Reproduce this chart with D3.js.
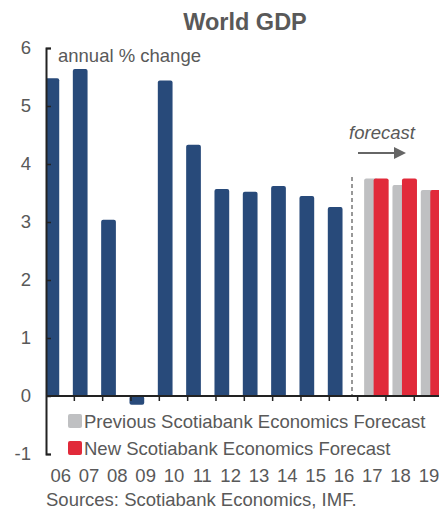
<!DOCTYPE html>
<html><head><meta charset="utf-8">
<script src="https://cdn.jsdelivr.net/npm/d3@7"></script>
<style>body{margin:0;background:#fff}svg{display:block;font-family:"Liberation Sans",Arial,sans-serif}</style>
</head><body><svg id="c" width="439" height="509"></svg>
<script>
const years = ["06","07","08","09","10","11","12","13","14","15","16","17","18","19"];
const histYears = ["06","07","08","09","10","11","12","13","14","15","16"];
const histValues = [5.48, 5.64, 3.04, -0.15, 5.44, 4.33, 3.57, 3.52, 3.62, 3.45, 3.26];
const fcYears = ["17","18","19"];
const prevForecast = [3.75, 3.64, 3.55];
const newForecast = [3.75, 3.75, 3.55];
const yTicks = [-1, 0, 1, 2, 3, 4, 5, 6];

const svg = d3.select("#c");
const txt = "#595959";
const x = d3.scaleBand().domain(years).range([46, 46 + 14 * 28.33]).padding(0);
const y = d3.scaleLinear().domain([-1, 6]).range([454, 48]);
const bw = x.bandwidth();

// title
svg.append("text").attr("x", 245).attr("y", 30).attr("text-anchor", "middle")
  .attr("font-size", "23.5px").attr("font-weight", "bold").attr("fill", txt).text("World GDP");

const plot = svg.append("g");
svg.append("defs").append("clipPath").attr("id", "clp").append("rect")
  .attr("x", 46).attr("y", 0).attr("width", 393).attr("height", 509);
const bars = plot.append("g").attr("clip-path", "url(#clp)");

function rbar(sel, xs, w, v, color) {
  sel.attr("x", xs).attr("width", w)
    .attr("y", v >= 0 ? y(v) : y(0))
    .attr("height", Math.abs(y(v) - y(0)) + (v >= 0 ? 1 : 0))
    .attr("rx", 2).attr("fill", color);
}
histYears.forEach((yr, i) => {
  rbar(bars.append("rect"), x(yr) - 1.5, bw * 0.52, histValues[i], "#284a7a");
});
fcYears.forEach((yr, i) => {
  rbar(bars.append("rect"), x(yr) + 6.5, bw * 0.5, prevForecast[i], "#bfc0c2");
  rbar(bars.append("rect"), x(yr) + 16, bw * 0.53, newForecast[i], "#e12a3a");
});

// dashed separator
plot.append("line").attr("x1", 352).attr("x2", 352).attr("y1", 177).attr("y2", y(0))
  .attr("stroke", "#777").attr("stroke-width", 1.5).attr("stroke-dasharray", "4,3");

// y axis
const ya = d3.axisLeft(y).tickValues(yTicks).tickFormat(d => String(d))
  .tickSizeInner(-5).tickSizeOuter(-5).tickPadding(15);
const gy = svg.append("g").attr("transform", "translate(46,0)").call(ya);
gy.select(".domain").attr("stroke", "#222").attr("stroke-width", 2);
gy.selectAll(".tick line").attr("stroke", "#222").attr("stroke-width", 1.5);
gy.selectAll(".tick text").attr("font-size", "18.5px").attr("fill", txt)
  .attr("font-family", "Liberation Sans, Arial, sans-serif");

// x axis line at zero
svg.append("line").attr("x1", 46).attr("x2", 439).attr("y1", y(0)).attr("y2", y(0))
  .attr("stroke", "#222").attr("stroke-width", 2);
svg.selectAll(".xt").data(years.slice(1)).enter().append("line")
  .attr("x1", d => x(d)).attr("x2", d => x(d)).attr("y1", y(0)).attr("y2", y(0) + 5)
  .attr("stroke", "#222").attr("stroke-width", 1.5);
svg.selectAll(".xl").data(years).enter().append("text")
  .attr("x", d => x(d) + bw / 2 + 0.5).attr("y", 482).attr("text-anchor", "middle")
  .attr("font-size", "18.5px").attr("fill", txt).text(d => d);

// annotations
svg.append("text").attr("x", 58).attr("y", 62).attr("font-size", "18.5px").attr("fill", txt).text("annual % change");
svg.append("text").attr("x", 382).attr("y", 139).attr("text-anchor", "middle")
  .attr("font-size", "18.5px").attr("font-style", "italic").attr("fill", txt).text("forecast");
svg.append("line").attr("x1", 358).attr("x2", 396).attr("y1", 153).attr("y2", 153)
  .attr("stroke", "#666").attr("stroke-width", 2);
svg.append("path").attr("d", "M394,147L406,153L394,159Z").attr("fill", "#666");

// legend
const legend = [["Previous Scotiabank Economics Forecast", "#bfc0c2", 414], ["New Scotiabank Economics Forecast", "#e12a3a", 441]];
legend.forEach(([t, c, yy]) => {
  svg.append("rect").attr("x", 68).attr("y", yy).attr("width", 14).attr("height", 14).attr("rx", 2).attr("fill", c);
  svg.append("text").attr("x", 84).attr("y", yy + 14).attr("font-size", "18.5px").attr("fill", txt).text(t);
});

svg.append("text").attr("x", 46).attr("y", 506).attr("font-size", "18.5px").attr("fill", txt)
  .text("Sources: Scotiabank Economics, IMF.");
</script></body></html>
